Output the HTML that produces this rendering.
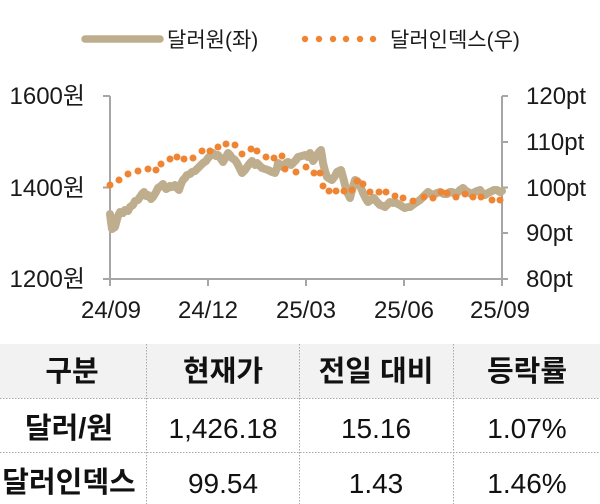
<!DOCTYPE html>
<html>
<head>
<meta charset="utf-8">
<style>
  html,body{margin:0;padding:0;background:#fff;}
  body{width:600px;height:504px;overflow:hidden;}
  svg{display:block;}
  .kr{font-family:"Liberation Sans","Noto Sans CJK KR","NanumGothic",sans-serif;}
</style>
</head>
<body>
<svg width="600" height="504" viewBox="0 0 600 504" xmlns="http://www.w3.org/2000/svg">
  <rect width="600" height="504" fill="#ffffff"/>

  <line x1="85" y1="39" x2="160" y2="39" stroke="#bfae8e" stroke-width="7.5" stroke-linecap="round"/>
  <text x="167" y="47" class="kr" font-size="21" fill="#1a1a1a">달러원(좌)</text>
  <g fill="#ef8533">
    <circle cx="305" cy="39" r="3.2"/>
    <circle cx="319" cy="39" r="3.2"/>
    <circle cx="333" cy="39" r="3.2"/>
    <circle cx="346" cy="39" r="3.2"/>
    <circle cx="360" cy="39" r="3.2"/>
    <circle cx="373" cy="39" r="3.2"/>
  </g>
  <text x="390" y="47" class="kr" font-size="21" fill="#1a1a1a">달러인덱스(우)</text>

  <g stroke="#a6a6a6" stroke-width="2" fill="none">
    <line x1="110" y1="96" x2="110" y2="286"/>
    <line x1="103" y1="279" x2="502" y2="279"/>
    <line x1="502" y1="96" x2="502" y2="286"/>
    <line x1="103" y1="96" x2="110" y2="96"/>
    <line x1="103" y1="187.5" x2="110" y2="187.5"/>
    <line x1="502" y1="96" x2="508" y2="96"/>
    <line x1="502" y1="142" x2="508" y2="142"/>
    <line x1="502" y1="187.5" x2="508" y2="187.5"/>
    <line x1="502" y1="233" x2="508" y2="233"/>
    <line x1="502" y1="279" x2="508" y2="279"/>
    <line x1="208" y1="279" x2="208" y2="286"/>
    <line x1="306" y1="279" x2="306" y2="286"/>
    <line x1="404" y1="279" x2="404" y2="286"/>
  </g>

  <g class="kr" font-size="24" fill="#1a1a1a" text-anchor="end">
    <text x="85" y="104">1600원</text>
    <text x="85" y="196">1400원</text>
    <text x="85" y="287">1200원</text>
  </g>
  <g class="kr" font-size="24" fill="#1a1a1a">
    <text x="526" y="104">120pt</text>
    <text x="526" y="150">110pt</text>
    <text x="526" y="196">100pt</text>
    <text x="526" y="241">90pt</text>
    <text x="526" y="287">80pt</text>
  </g>
  <g class="kr" font-size="24" fill="#1a1a1a" text-anchor="middle">
    <text x="111" y="318">24/09</text>
    <text x="208" y="318">24/12</text>
    <text x="306" y="318">25/03</text>
    <text x="404" y="318">25/06</text>
    <text x="500" y="318">25/09</text>
  </g>

  <polyline fill="none" stroke="#bfae8e" stroke-width="8" stroke-linejoin="round" stroke-linecap="round"
    points="110,214 111,222 112,229 115,227 118,216 120,212 123,213 125,210 128,211 130,207 133,205 135,201 138,200 140,197 142,194 144,192 146,196 148,195 151,199 153,197 156,192 158,188 161,186 163,184 166,189 168,188 170,186 172,187 175,185 177,188 179,190 181,184 183,180 185,178 187,175 190,174 192,172 195,171 198,168 200,166 203,163 206,161 208,158 211,155 213,153 216,156 218,155 221,159 223,162 226,157 228,153 230,155 232,158 235,160 237,163 240,169 242,173 245,170 247,167 250,163 252,161 255,165 257,163 260,166 262,168 265,169 268,170 272,172 275,173 277,168 278,163 281,165 283,167 286,163 288,162 291,165 293,163 296,160 298,157 302,156 305,155 308,157 310,153 312,158 313,161 315,158 317,155 319,152 321,150 322,156 323,163 325,171 327,177 330,179 332,180 335,176 337,172 339,171 341,170 343,177 345,185 347,192 349,196 350,198 352,190 355,180 357,181 359,183 361,188 363,193 366,199 368,202 371,200 374,198 377,202 380,205 383,206 385,207 388,204 390,202 393,203 395,202 398,204 400,205 403,207 405,208 408,207 410,207 414,204 417,202 420,200 422,198 425,195 428,192 431,194 433,195 437,193 440,192 444,194 447,194 450,192 452,192 455,194 457,193 460,190 463,188 466,191 468,192 471,194 473,193 477,191 480,190 483,194 485,195 488,193 490,192 494,190 497,190 500,192 502,191"/>

  <g fill="#ef8533">
    <circle cx="110" cy="185" r="3.5"/>
    <circle cx="119" cy="180" r="3.5"/>
    <circle cx="128" cy="174" r="3.5"/>
    <circle cx="138" cy="171" r="3.5"/>
    <circle cx="148" cy="169" r="3.5"/>
    <circle cx="156" cy="170" r="3.5"/>
    <circle cx="161" cy="164" r="3.5"/>
    <circle cx="170" cy="159" r="3.5"/>
    <circle cx="177" cy="157" r="3.5"/>
    <circle cx="184" cy="159" r="3.5"/>
    <circle cx="193" cy="158" r="3.5"/>
    <circle cx="202" cy="151" r="3.5"/>
    <circle cx="210" cy="151" r="3.5"/>
    <circle cx="218" cy="147" r="3.5"/>
    <circle cx="226" cy="144" r="3.5"/>
    <circle cx="235" cy="145" r="3.5"/>
    <circle cx="242" cy="154" r="3.5"/>
    <circle cx="251" cy="149" r="3.5"/>
    <circle cx="257" cy="151" r="3.5"/>
    <circle cx="266" cy="157" r="3.5"/>
    <circle cx="274" cy="158" r="3.5"/>
    <circle cx="282" cy="156" r="3.5"/>
    <circle cx="285" cy="169" r="3.5"/>
    <circle cx="296" cy="172" r="3.5"/>
    <circle cx="306" cy="167" r="3.5"/>
    <circle cx="314" cy="173" r="3.5"/>
    <circle cx="320" cy="173" r="3.5"/>
    <circle cx="323" cy="186" r="3.5"/>
    <circle cx="329" cy="191" r="3.5"/>
    <circle cx="336" cy="191" r="3.5"/>
    <circle cx="344" cy="191" r="3.5"/>
    <circle cx="352" cy="190" r="3.5"/>
    <circle cx="357" cy="181" r="3.5"/>
    <circle cx="363" cy="184" r="3.5"/>
    <circle cx="370" cy="192" r="3.5"/>
    <circle cx="379" cy="192" r="3.5"/>
    <circle cx="386" cy="192" r="3.5"/>
    <circle cx="395" cy="196" r="3.5"/>
    <circle cx="403" cy="198" r="3.5"/>
    <circle cx="413" cy="201" r="3.5"/>
    <circle cx="424" cy="197" r="3.5"/>
    <circle cx="433" cy="198" r="3.5"/>
    <circle cx="441" cy="192" r="3.5"/>
    <circle cx="447" cy="193" r="3.5"/>
    <circle cx="456" cy="197" r="3.5"/>
    <circle cx="465" cy="194" r="3.5"/>
    <circle cx="473" cy="197" r="3.5"/>
    <circle cx="481" cy="197" r="3.5"/>
    <circle cx="492" cy="200" r="3.5"/>
    <circle cx="500" cy="200" r="3.5"/>
  </g>

  <rect x="0" y="344" width="600" height="54" fill="#f2f2f2"/>
  <g stroke="#a8a8a8" stroke-width="1" stroke-dasharray="1.5,1.5" fill="none">
    <line x1="0" y1="398.5" x2="600" y2="398.5"/>
    <line x1="0" y1="452.5" x2="600" y2="452.5"/>
    <line x1="146.5" y1="344" x2="146.5" y2="504"/>
    <line x1="299.5" y1="344" x2="299.5" y2="504"/>
    <line x1="453.5" y1="344" x2="453.5" y2="504"/>
  </g>
  <g class="kr" font-size="29" font-weight="bold" fill="#111" text-anchor="middle">
    <text x="72" y="381">구분</text>
    <text x="223" y="381">현재가</text>
    <text x="376" y="381">전일 대비</text>
    <text x="527" y="381">등락률</text>
    <text x="69" y="438">달러/원</text>
    <text x="69" y="492">달러인덱스</text>
  </g>
  <g class="kr" font-size="28" fill="#111" text-anchor="middle">
    <text x="223" y="438">1,426.18</text>
    <text x="376" y="438">15.16</text>
    <text x="527" y="438">1.07%</text>
    <text x="223" y="493">99.54</text>
    <text x="376" y="493">1.43</text>
    <text x="527" y="493">1.46%</text>
  </g>
</svg>
</body>
</html>
